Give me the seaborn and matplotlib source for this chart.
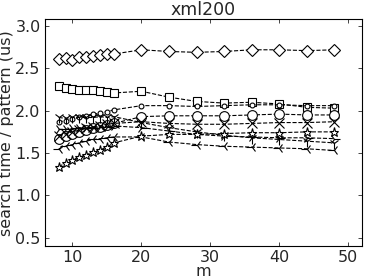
import matplotlib
matplotlib.use("Agg")
import matplotlib.pyplot as plt
import seaborn as sns
import pandas as pd

m = [8, 9, 10, 11, 12, 13, 14, 15, 16, 20, 24, 28, 32, 36, 40, 44, 48]

s_diamond = [2.61, 2.62, 2.60, 2.63, 2.64, 2.65, 2.66, 2.67, 2.67, 2.72, 2.70, 2.69, 2.70, 2.72, 2.72, 2.71, 2.72]
s_square = [2.29, 2.27, 2.26, 2.25, 2.24, 2.24, 2.23, 2.22, 2.21, 2.23, 2.16, 2.11, 2.09, 2.10, 2.08, 2.04, 2.03]
s_smallcirc = [1.87, 1.88, 1.90, 1.92, 1.94, 1.96, 1.97, 1.99, 2.01, 2.06, 2.06, 2.05, 2.06, 2.07, 2.07, 2.06, 2.06]
s_bigcirc = [1.67, 1.70, 1.73, 1.75, 1.77, 1.79, 1.81, 1.83, 1.85, 1.93, 1.94, 1.94, 1.94, 1.95, 1.96, 1.95, 1.95]
s_x = [1.70, 1.73, 1.75, 1.77, 1.79, 1.81, 1.82, 1.84, 1.85, 1.87, 1.85, 1.84, 1.84, 1.85, 1.86, 1.86, 1.87]
s_tri_down = [1.92, 1.91, 1.92, 1.92, 1.92, 1.92, 1.93, 1.92, 1.93, 1.86, 1.80, 1.75, 1.71, 1.68, 1.66, 1.64, 1.62]
s_tri_right = [1.78, 1.78, 1.79, 1.79, 1.80, 1.80, 1.81, 1.81, 1.82, 1.80, 1.76, 1.72, 1.70, 1.69, 1.68, 1.68, 1.67]
s_tri_left = [1.55, 1.58, 1.60, 1.62, 1.64, 1.66, 1.67, 1.68, 1.69, 1.69, 1.63, 1.60, 1.58, 1.57, 1.56, 1.55, 1.53]
s_star = [1.34, 1.38, 1.42, 1.45, 1.48, 1.51, 1.54, 1.57, 1.62, 1.70, 1.72, 1.72, 1.73, 1.74, 1.74, 1.75, 1.75]

series = [
    ("diamond", s_diamond, "D", 6.5),
    ("square", s_square, "s", 6),
    ("smallcirc", s_smallcirc, "o", 3.5),
    ("bigcirc", s_bigcirc, "o", 7),
    ("x", s_x, "x", 7),
    ("tri_down", s_tri_down, "1", 8),
    ("tri_right", s_tri_right, "4", 8),
    ("tri_left", s_tri_left, "3", 8),
    ("star", s_star, "*", 6.5),
]

sns.set_style("ticks")
plt.rcParams.update({
    "xtick.direction": "in", "ytick.direction": "in",
    "xtick.top": True, "ytick.right": True,
    "font.family": ["DejaVu Sans"],
})

fig = plt.figure(figsize=(3.74, 2.8), dpi=100)
ax = fig.add_axes([0.120, 0.121, 0.848, 0.810])

for name, vals, mk, ms in series:
    df = pd.DataFrame({"m": m, "t": vals})
    sns.lineplot(data=df, x="m", y="t", ax=ax, color="black", marker=mk,
                 markersize=ms, markerfacecolor="white", markeredgecolor="black",
                 markeredgewidth=0.8, linewidth=0.8, linestyle="--")

ax.set_xlim(6, 52)
ax.set_ylim(0.4, 3.08)
ax.set_xticks([10, 20, 30, 40, 50])
ax.set_yticks([0.5, 1.0, 1.5, 2.0, 2.5, 3.0])
ax.tick_params(labelsize=11.5, length=3, width=0.6, pad=3)
ax.set_xlabel("m", fontsize=11.5, labelpad=-1)
ax.set_ylabel("search time / pattern (us)", fontsize=11.5, labelpad=1)
ax.set_title("xml200", fontsize=12.5, pad=2)
for sp in ax.spines.values():
    sp.set_linewidth(0.8)
    sp.set_color("black")

fig.savefig("out.png", dpi=100)
